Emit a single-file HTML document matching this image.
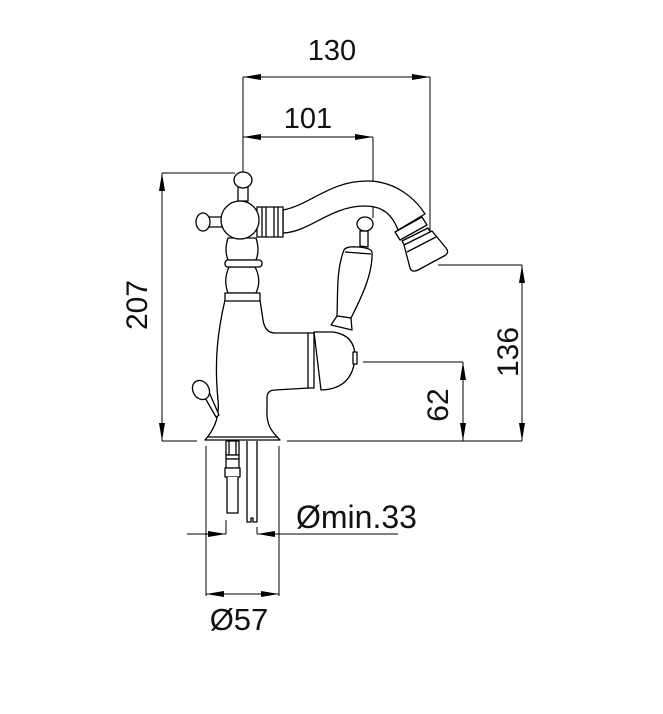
<!DOCTYPE html>
<html><head><meta charset="utf-8"><style>
html,body{margin:0;padding:0;background:#fff;}
svg{display:block;}
text{font-family:"Liberation Sans",Arial,sans-serif;fill:#111;}
</style></head><body>
<svg width="663" height="714" viewBox="0 0 663 714" xmlns="http://www.w3.org/2000/svg">
<g stroke="#000" stroke-width="1" fill="none">
<line x1="243" y1="77" x2="430" y2="77"/>
<line x1="243" y1="77" x2="243" y2="172"/>
<line x1="430" y1="77" x2="430" y2="258"/>
<line x1="243" y1="137" x2="373" y2="137"/>
<line x1="373" y1="137" x2="373" y2="218"/>
<line x1="162" y1="173" x2="235" y2="173"/>
<line x1="162" y1="173" x2="162" y2="441"/>
<line x1="162" y1="441" x2="197" y2="441"/>
<line x1="287" y1="441" x2="522" y2="441"/>
<line x1="438" y1="265" x2="522" y2="265"/>
<line x1="522" y1="265" x2="522" y2="441"/>
<line x1="363" y1="362" x2="463" y2="362"/>
<line x1="463" y1="362" x2="463" y2="441"/>
<line x1="187" y1="534" x2="226" y2="534"/>
<line x1="257" y1="534" x2="398" y2="534"/>
<line x1="226" y1="520" x2="226" y2="534"/>
<line x1="257" y1="527" x2="257" y2="534"/>
<line x1="206" y1="446" x2="206" y2="596"/>
<line x1="279" y1="446" x2="279" y2="596"/>
<line x1="206" y1="594" x2="279" y2="594"/>
</g>
<g fill="#000">
<polygon points="243,77 261,74 261,80"/><polygon points="430,77 412,74 412,80"/>
<polygon points="243,137 261,134 261,140"/><polygon points="373,137 355,134 355,140"/>
<polygon points="162,173 159,191 165,191"/><polygon points="162,441 159,423 165,423"/>
<polygon points="522,265 519,283 525,283"/><polygon points="522,441 519,423 525,423"/>
<polygon points="463,362 460,380 466,380"/><polygon points="463,441 460,423 466,423"/>
<polygon points="226,534 208,531 208,537"/><polygon points="257,534 275,531 275,537"/>
<polygon points="206,594 224,591 224,597"/><polygon points="279,594 261,591 261,597"/>
</g>
<g stroke="#000" stroke-width="1.3" fill="#fff" stroke-linejoin="round">
<path d="M283,210 C310,205 330,181 367,181 C395,181 415,198 425,214 L398,230 C392,214 382,206 365,206 C330,206 310,232 283,233 Z"/>
<polygon points="395,232 422,217 427,225 400,240"/>
<polygon points="402,241 428,228 431,233 405,246"/>
<path d="M404,245 L432,231 L446,248 Q450,253 444,256 L418,270 Q412,273 410,268 Z"/>
<line x1="407" y1="252" x2="436" y2="237"/>
<rect x="257" y="207" width="26" height="30"/>
<line x1="262" y1="207" x2="262" y2="237"/><line x1="266" y1="207" x2="266" y2="237"/>
<line x1="274" y1="207" x2="274" y2="237"/><line x1="278" y1="207" x2="278" y2="237"/>
<path d="M228,238 Q224,250 228,260 L256,260 Q260,250 256,238 Z"/>
<path d="M229,267 Q223,280 228,293 L256,293 Q262,280 255,267 Z"/>
<rect x="225" y="260" width="37" height="7" rx="3"/>
<path d="M225,300 C218,330 214,360 218,400 C220,420 212,432 205,440 L280,440 C272,432 266,425 267,410 L267,398 Q267,390 275,390 L309,388 L309,333 L275,333 Q265,333 263,320 L260,300 Z"/>
<rect x="225" y="293" width="35" height="8"/>
<line x1="207" y1="437" x2="278" y2="437"/>
<rect x="308" y="333" width="6" height="55"/>
<path d="M314,332 L333,332 Q355,335 355,357 Q353,389 321,390 Z"/>
<rect x="353" y="352" width="4" height="12"/>
<path d="M337,316 C338,295 336,270 344,250 Q346,246 358,247 Q371,248 372,252 C373,275 360,300 351,318 Z"/>
<path d="M331,325 L337,316 L351,318 L352,330 Z"/>
<line x1="345" y1="252" x2="371" y2="254"/>
<path d="M360,231 L360,246 L368,247 L368,231 Z"/>
<ellipse cx="365" cy="224" rx="8" ry="7"/>
<rect x="238" y="186" width="10" height="15"/>
<ellipse cx="243" cy="180" rx="9" ry="8"/>
<rect x="209" y="217" width="14" height="10"/>
<ellipse cx="203" cy="222" rx="7" ry="9"/>
<circle cx="240" cy="220" r="19"/>
<path d="M209,392 L219,415 L216,417 L204,396 Z"/>
<ellipse cx="201" cy="390" rx="8" ry="10" transform="rotate(-30 201 390)"/>
<rect x="226" y="441" width="13" height="14"/>
<line x1="229" y1="441" x2="229" y2="455"/><line x1="236" y1="441" x2="236" y2="455"/>
<rect x="226" y="455" width="13" height="4"/>
<rect x="226" y="459" width="13" height="9"/>
<rect x="225" y="468" width="15" height="9"/>
<path d="M227,477 L227,513 L238,513 L238,477"/>
<path d="M247,441 L247,522 L251,522 L251,518 L253,518 L253,522 L257,522 L257,441"/>
</g>
<text x="332" y="60" font-size="29" text-anchor="middle">130</text>
<text x="308" y="128" font-size="29" text-anchor="middle">101</text>
<text transform="translate(147,305) rotate(-90)" font-size="30" text-anchor="middle">207</text>
<text transform="translate(518,352) rotate(-90)" font-size="30" text-anchor="middle">136</text>
<text transform="translate(448,405) rotate(-90)" font-size="30" text-anchor="middle">62</text>
<text x="296" y="528" font-size="32">Ømin.33</text>
<text x="239" y="630" font-size="31" text-anchor="middle">Ø57</text>
</svg>
</body></html>
